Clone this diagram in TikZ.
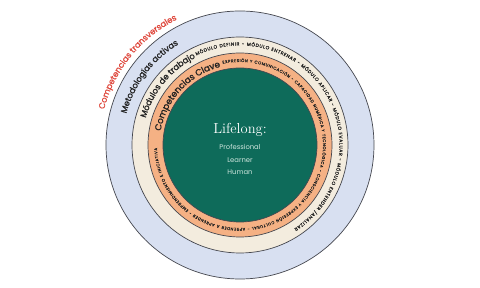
\documentclass[tikz,border=0pt]{standalone}
\usepackage{fontspec}
\newfontfamily\pop{Poppins}
\newfontfamily\popb{Poppins}[FakeBold=1.4]
\newfontfamily\pops{Poppins}[FakeBold=0.6]
\usetikzlibrary{decorations.text}
\definecolor{bandblue}{HTML}{D8E0F1}
\definecolor{bandbeige}{HTML}{F3ECDE}
\definecolor{bandorange}{HTML}{F5B184}
\definecolor{coregreen}{HTML}{0E6B5A}
\definecolor{ringline}{HTML}{45474F}
\definecolor{tred}{HTML}{E04A3F}
\definecolor{tdark}{HTML}{222222}
\definecolor{paleg}{HTML}{CFE6DE}
\tikzset{
  ring/.style={line width=0.7pt, draw=ringline},
  curvetext/.style={decorate, decoration={text along path, text color=tdark, text align=center}},
  smalltext/.style={decorate, decoration={text along path, text color=tdark, text align={fit to path}}},
}
\begin{document}
\begin{tikzpicture}[x=1pt,y=1pt]
\useasboundingbox (-240,-143) rectangle (240,145);
\fill[white] (-240,-143) rectangle (240,145);
\coordinate (O) at (0,0);
\draw[ring, fill=bandblue] (O) circle[radius=134];
\draw[ring, fill=bandbeige] (O) circle[radius=108];
\draw[ring, fill=bandorange] (O) circle[radius=92];
\draw[ring, fill=coregreen] (O) circle[radius=77];
% headings
\path[decorate, decoration={text along path, text color=tred, text align=center,
  text={|\popb\fontsize{8.3}{9}\selectfont|Competencias transversales}}]
  (176:140.5) arc[start angle=176, end angle=106, radius=140.5];
\path[curvetext, decoration={text={|\popb\fontsize{8.3}{9}\selectfont|Metodologías activas}}]
  (178:118) arc[start angle=178, end angle=108, radius=118];
\path[curvetext, decoration={text={|\popb\fontsize{8.3}{9}\selectfont|Módulos de trabajo}}]
  (175:98) arc[start angle=175, end angle=106, radius=98];
\path[curvetext, decoration={text={|\popb\fontsize{8.8}{9}\selectfont|Competencias Clave}}]
  (172:80.5) arc[start angle=172, end angle=102, radius=80.5];
% small texts
\path[smalltext, decoration={
  text={|\pops\fontsize{4.6}{5}\selectfont|MÓDULO DEFINIR - MÓDULO ENTRENAR - MÓDULO APLICAR - MÓDULO EVALUAR - MÓDULO ENTENDER /ANALIZAR}}]
  (116:99.5) arc[start angle=116, end angle=-57, radius=99.5];
\path[smalltext, decoration={
  text={|\pops\fontsize{4}{5}\selectfont|EXPRESIÓN Y COMUNICACIÓN - CAPACIDAD NUMÉRICA Y TECNOLÓGICA - CONSCIENCIA Y EXPRESIÓN CULTURAL - APRENDER A APRENDER - EMPRENDIMIENTO E INICIATIVA}}]
  (102:83) arc[start angle=102, end angle=-178, radius=83];
% center
\node[text=white, font=\fontsize{14.5}{15}\selectfont] (life) at (0,15) {Lifelong:};
\node[text=paleg, font=\pop\fontsize{6.8}{7}\selectfont] (prof) at (0,-2) {Professional};
\node[text=paleg, font=\pop\fontsize{6.8}{7}\selectfont] (learn) at (0,-15) {Learner};
\node[text=paleg, font=\pop\fontsize{6.8}{7}\selectfont] (human) at (0,-27) {Human};
\end{tikzpicture}
\end{document}
